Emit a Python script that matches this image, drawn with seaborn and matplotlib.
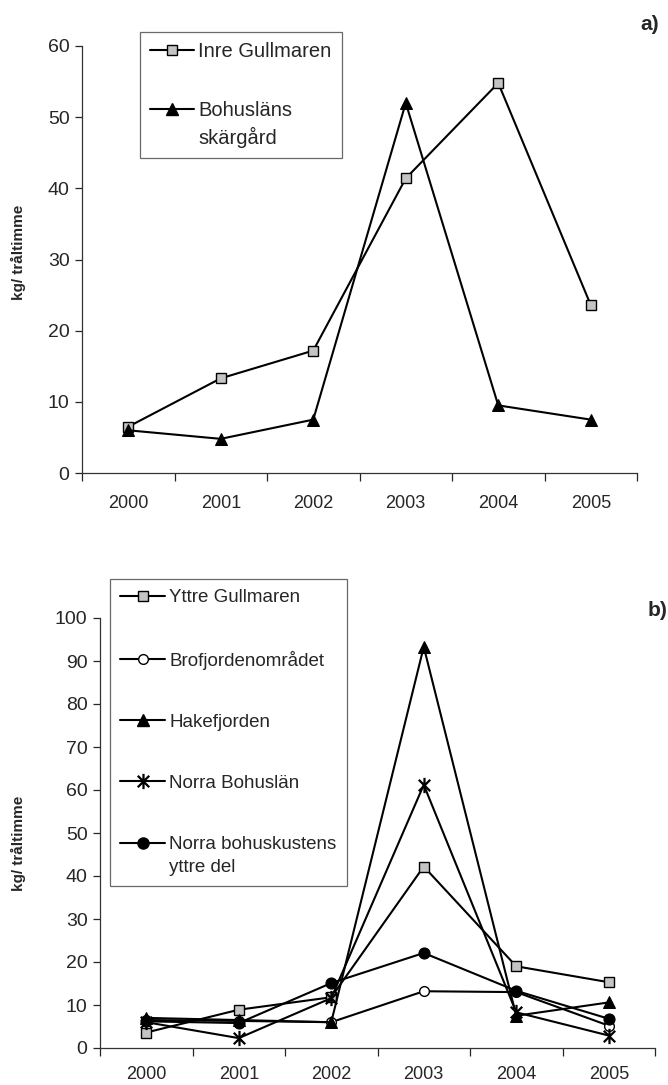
import matplotlib
matplotlib.use("Agg")
import matplotlib.pyplot as plt
import seaborn as sns
import pandas as pd
from matplotlib.lines import Line2D
from matplotlib.path import Path
from matplotlib.legend_handler import HandlerLine2D

sns.set_style("ticks")
plt.rcParams['font.family'] = ['Liberation Sans', 'DejaVu Sans']

years = ["2000", "2001", "2002", "2003", "2004", "2005"]

# Panel a
inre_gullmaren = [6.5, 13.3, 17.2, 41.4, 54.8, 23.6]
bohuslans_skargard = [6.0, 4.8, 7.5, 52.0, 9.5, 7.5]

# Panel b
yttre_gullmaren = [3.6, 8.9, 11.8, 42.2, 19.0, 15.3]
brofjordenomradet = [6.5, 6.3, 6.0, 13.2, 13.0, 5.2]
hakefjorden = [7.0, 6.5, 6.0, 93.3, 7.5, 10.6]
norra_bohuslan = [6.0, 2.3, 11.6, 61.2, 8.3, 2.9]
norra_bohuskustens = [6.2, 5.8, 15.1, 22.1, 13.3, 6.8]

W, H = 668, 1085
fig = plt.figure(figsize=(W / 100, H / 100), dpi=100)

def add_axes(left, right, top, bottom):
    return fig.add_axes([left / W, 1 - bottom / H, (right - left) / W, (bottom - top) / H])

ax1 = add_axes(82, 637, 46, 473)
ax2 = add_axes(100, 655, 618, 1048)

asterisk = Path([(0, -1), (0, 1), (-0.75, -0.75), (0.75, 0.75), (-0.75, 0.75), (0.75, -0.75)],
                [Path.MOVETO, Path.LINETO, Path.MOVETO, Path.LINETO, Path.MOVETO, Path.LINETO])

pos = list(range(len(years)))
lw = 1.5
styles = {
    "sq": dict(marker="s", markersize=7, markerfacecolor="#c4c4c4", markeredgecolor="black", markeredgewidth=1.0),
    "oc": dict(marker="o", markersize=7, markerfacecolor="white", markeredgecolor="black", markeredgewidth=1.0),
    "tri": dict(marker="^", markersize=9, markerfacecolor="black", markeredgecolor="black"),
    "ast": dict(marker=asterisk, markersize=11, markerfacecolor="black", markeredgecolor="black", markeredgewidth=1.6),
    "fc": dict(marker="o", markersize=8, markerfacecolor="black", markeredgecolor="black"),
}


class ShiftHandler(HandlerLine2D):
    """Aligns the legend handle with the first line of a two-line label."""
    def __init__(self, shift, **kw):
        super().__init__(**kw)
        self.shift = shift

    def create_artists(self, legend, orig_handle, xdescent, ydescent, width, height, fontsize, trans):
        return super().create_artists(legend, orig_handle, xdescent, ydescent - 2 * self.shift,
                                      width, height, fontsize, trans)


def draw(ax, vals, st):
    df = pd.DataFrame({"x": pos, "y": vals})
    sns.lineplot(data=df, x="x", y="y", ax=ax, color="black", lw=lw, **styles[st])
    return Line2D([], [], color="black", lw=lw, **styles[st])

h1 = [draw(ax1, inre_gullmaren, "sq"), draw(ax1, bohuslans_skargard, "tri")]
l1 = ["Inre Gullmaren", "Bohusläns\nskärgård"]

h2 = [draw(ax2, yttre_gullmaren, "sq"), draw(ax2, brofjordenomradet, "oc"),
      draw(ax2, hakefjorden, "tri"), draw(ax2, norra_bohuslan, "ast"),
      draw(ax2, norra_bohuskustens, "fc")]
l2 = ["Yttre Gullmaren", "Brofjordenområdet", "Hakefjorden", "Norra Bohuslän",
      "Norra bohuskustens\nyttre del"]

for ax, ymax, step, xpad in [(ax1, 60, 10, 16), (ax2, 100, 10, 13)]:
    ax.set_xlim(-0.5, 5.5)
    ax.set_ylim(0, ymax)
    ax.set_yticks(range(0, ymax + 1, step))
    ax.set_xticks([i - 0.5 for i in range(len(years) + 1)])
    ax.set_xticklabels([])
    ax.set_xticks(pos, minor=True)
    ax.set_xticklabels(years, minor=True)
    ax.tick_params(axis="x", which="major", length=6, width=0.9, direction="out")
    ax.tick_params(axis="x", which="minor", length=0, labelsize=13, pad=xpad)
    ax.tick_params(axis="y", length=5, width=0.9, direction="out", labelsize=14, pad=4)
    ax.set_xlabel("")
    ax.set_ylabel("")
    for s in ["top", "right"]:
        ax.spines[s].set_visible(False)
    for s in ["left", "bottom"]:
        ax.spines[s].set_linewidth(0.9)
        ax.spines[s].set_color("#333333")
    ax.set_facecolor("none")

leg1 = ax1.legend(h1, l1, loc="upper left", bbox_to_anchor=(140 / W, 1 - 32 / H),
                  bbox_transform=fig.transFigure, frameon=True, fancybox=False,
                  edgecolor="#444444", fontsize=14.5, handlelength=2.2, handletextpad=0.2,
                  labelspacing=2.0, borderpad=0.5, borderaxespad=0,
                  handler_map={h1[1]: ShiftHandler(12)})
leg1.get_frame().set_linewidth(0.9)
for t in leg1.get_texts():
    t.set_linespacing(1.4)

leg2 = ax2.legend(h2, l2, loc="upper left", bbox_to_anchor=(110 / W, 1 - 579 / H),
                  bbox_transform=fig.transFigure, frameon=True, fancybox=False,
                  edgecolor="#444444", fontsize=13.5, handlelength=2.4, handletextpad=0.2,
                  labelspacing=2.35, borderpad=0.55, borderaxespad=0,
                  handler_map={h2[4]: ShiftHandler(9.5)})
leg2.get_frame().set_linewidth(0.9)
for t in leg2.get_texts():
    t.set_linespacing(1.45)

fig.text(18 / W, 1 - 252 / H, "kg/ tråltimme", rotation=90, fontsize=11, fontweight="bold",
         ha="center", va="center")
fig.text(18 / W, 1 - 843 / H, "kg/ tråltimme", rotation=90, fontsize=11, fontweight="bold",
         ha="center", va="center")
fig.text(650 / W, 1 - 25 / H, "a)", fontsize=15, fontweight="bold", ha="center", va="center")
fig.text(648 / W, 1 - 610 / H, "b)", fontsize=15, fontweight="bold", ha="left", va="center")

fig.savefig("out.png", dpi=100, facecolor="white")
